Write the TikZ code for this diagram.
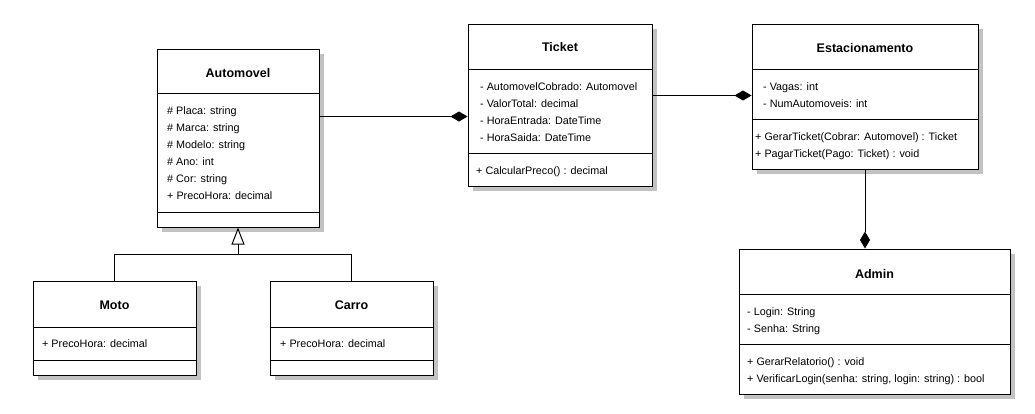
\documentclass[tikz,border=0pt]{standalone}
\usepackage{fontspec}
\setmainfont{Liberation Sans}
\usetikzlibrary{arrows.meta}
\tikzset{
  classbox/.style={draw=black, line width=1pt, fill=white, inner sep=0pt, rectangle},
  shadowfill/.style={fill=black!24},
  divider/.style={line width=1pt},
  titletext/.style={inner sep=0pt, anchor=base, font=\fontsize{12.5}{14}\selectfont\bfseries},
  membertext/.style={inner sep=0pt, anchor=base west, font=\fontsize{10.8}{12}\selectfont},
  conn/.style={line width=1pt},
  comp/.style={conn, -{Diamond[length=17pt,width=10pt,fill=black]}},
  inh/.style={conn, -{Triangle[open,length=17pt,width=13pt,fill=white]}}
}
\newcommand{\umlclass}[8]{%
  \fill[shadowfill] ({#2+5},{#3+5}) rectangle ({#4+5},{#5+5});
  \node[classbox, minimum width={(#4-#2)*1pt}, minimum height={(#5-#3)*1pt}]
    (#1) at ({(#2+#4)/2},{(#3+#5)/2}) {};
  \draw[divider] (#2,#6) -- (#4,#6);
  \draw[divider] (#2,#7) -- (#4,#7);
  \node[titletext] (#1-title) at ({(#2+#4)/2},#8) {\csname title#1\endcsname};
}
\begin{document}
\begin{tikzpicture}[x=1pt,y=-1pt]
\useasboundingbox[fill=white] (0,0) rectangle (1035,413);

% titles
\expandafter\def\csname titleauto\endcsname{Automovel}
\expandafter\def\csname titleticket\endcsname{Ticket}
\expandafter\def\csname titleest\endcsname{Estacionamento}
\expandafter\def\csname titleadmin\endcsname{Admin}
\expandafter\def\csname titlemoto\endcsname{Moto}
\expandafter\def\csname titlecarro\endcsname{Carro}

\umlclass{auto}{157}{49}{319}{227}{93}{212}{77}
\umlclass{ticket}{468}{24}{652}{186}{69}{153}{51}
\umlclass{est}{752}{24}{978}{169}{69}{119}{52}
\umlclass{admin}{739}{249}{1010}{394}{294}{344}{278}
\umlclass{moto}{33}{281}{196}{375}{327}{360}{309}
\umlclass{carro}{270}{281}{433}{375}{327}{360}{309}

% Automovel members
\node[membertext] (a1) at (167,114) {\# Placa: string};
\node[membertext] (a2) at (167,131) {\# Marca: string};
\node[membertext] (a3) at (167,148) {\# Modelo: string};
\node[membertext] (a4) at (167,165) {\# Ano: int};
\node[membertext] (a5) at (167,182) {\# Cor: string};
\node[membertext] (a6) at (167,199) {+ PrecoHora: decimal};

% Ticket members
\node[membertext] (t1) at (480,90) {- AutomovelCobrado: Automovel};
\node[membertext] (t2) at (480,107) {- ValorTotal: decimal};
\node[membertext] (t3) at (480,124) {- HoraEntrada: DateTime};
\node[membertext] (t4) at (480,141) {- HoraSaida: DateTime};
\node[membertext] (t5) at (476,174) {+ CalcularPreco() : decimal};

% Estacionamento members
\node[membertext] (e1) at (763,90) {- Vagas: int};
\node[membertext] (e2) at (763,107) {- NumAutomoveis: int};
\node[membertext] (e3) at (755,140) {+ GerarTicket(Cobrar: Automovel) : Ticket};
\node[membertext] (e4) at (755,157) {+ PagarTicket(Pago: Ticket) : void};

% Admin members
\node[membertext] (d1) at (747,315) {- Login: String};
\node[membertext] (d2) at (747,332) {- Senha: String};
\node[membertext] (d3) at (747,365) {+ GerarRelatorio() : void};
\node[membertext] (d4) at (747,382) {+ VerificarLogin(senha: string, login: string) : bool};

% Moto / Carro members
\node[membertext] (m1) at (42,347) {+ PrecoHora: decimal};
\node[membertext] (c1) at (280,347) {+ PrecoHora: decimal};

% connectors
\coordinate (autoR) at ([yshift=-68pt]auto.north east);
\draw[comp] (autoR) -- (autoR -| ticket.west);
\coordinate (ticketR) at ([yshift=-72pt]ticket.north east);
\draw[comp] (ticketR) -- (ticketR -| est.west);
\draw[comp] (est.south) -- (est.south |- admin.north);

\draw[conn] (moto.north) |- ([yshift=-27pt]auto.south) coordinate (junc) -| (carro.north);
\draw[inh] (junc) -- (auto.south);
\end{tikzpicture}
\end{document}
